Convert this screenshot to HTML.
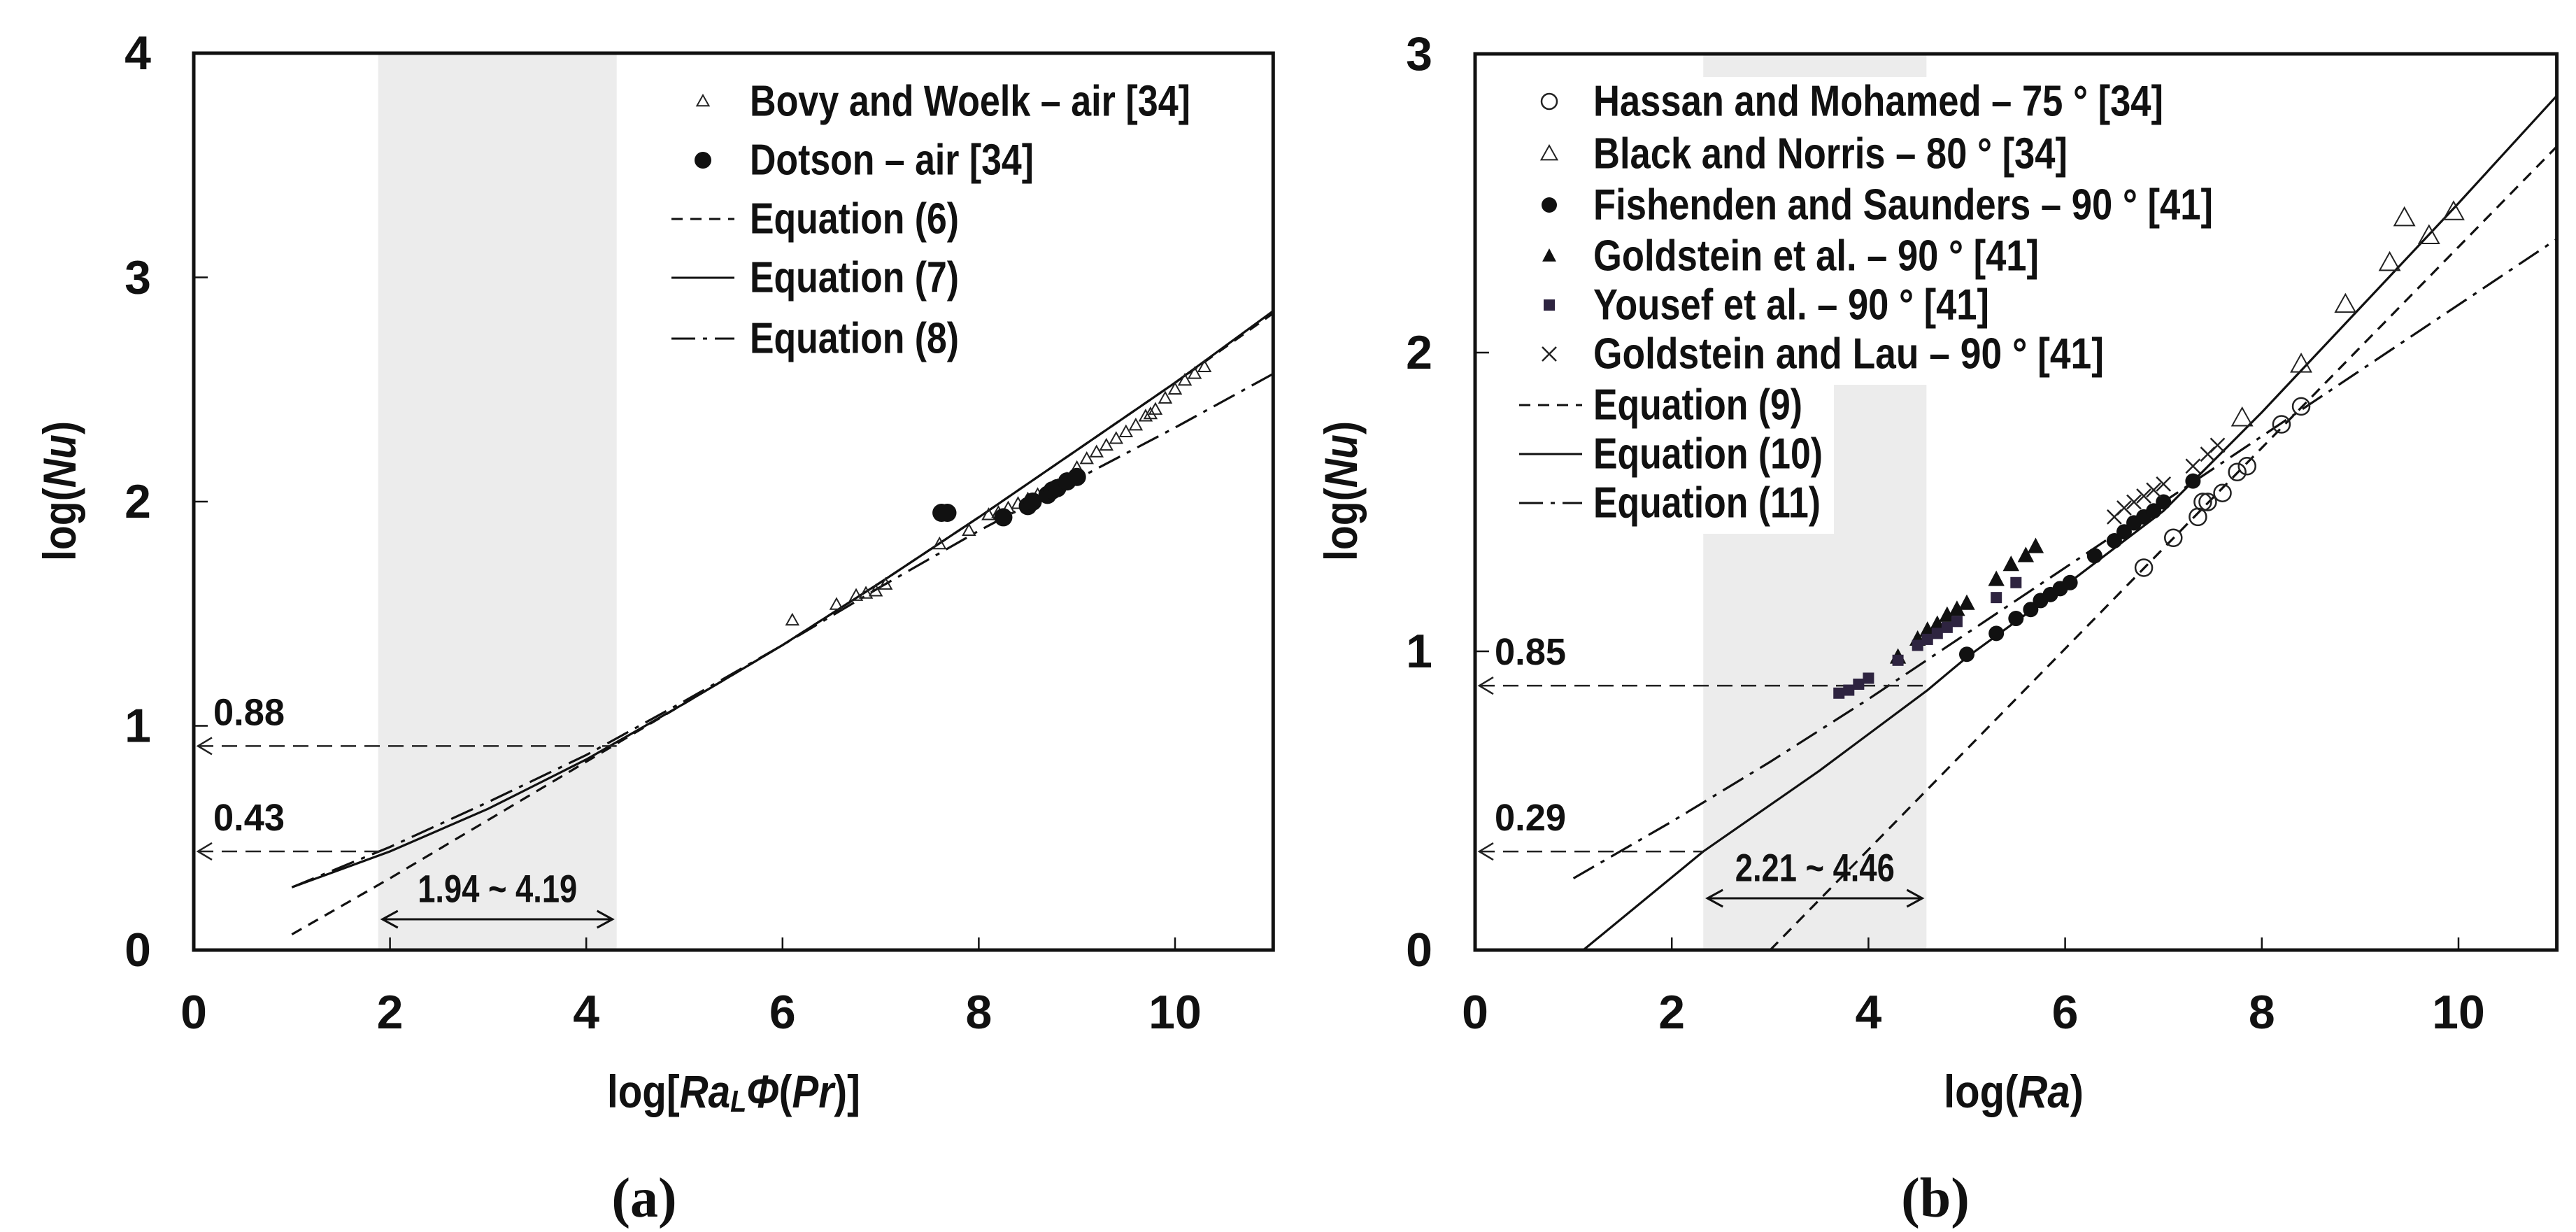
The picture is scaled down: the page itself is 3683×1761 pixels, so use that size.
<!DOCTYPE html>
<html><head><meta charset="utf-8"><style>
html,body{margin:0;padding:0;background:#fff;}
svg{display:block;font-family:"Liberation Sans",Arial,sans-serif;}
</style></head><body>
<svg id="fig" width="3683" height="1761" viewBox="0 0 3683 1761" xmlns="http://www.w3.org/2000/svg">
<rect width="3683" height="1761" fill="#fff"/>
<g id="pa"></g>
<g id="pb"></g>
</svg>
<script>
// ---------- Panel (a) data ----------
const aXTicks = [0, 2, 4, 6, 8, 10];
const aYTicks = [0, 1, 2, 3, 4];
const aShade = [1.88, 4.31];
const aEq6X = [1, 2, 3, 4, 5, 6, 7, 8, 9, 10, 11];
const aEq6Y = [0.07, 0.32, 0.58, 0.84, 1.1, 1.36, 1.64, 1.93, 2.23, 2.53, 2.84];
const aEq7X = [1, 2, 3, 4, 5, 6, 7, 8, 9, 10, 11];
const aEq7Y = [0.28, 0.44, 0.63, 0.85, 1.1, 1.36, 1.64, 1.93, 2.23, 2.53, 2.85];
const aEq8X = [1, 2, 3, 4, 5, 6, 7, 8, 9, 10, 11];
const aEq8Y = [0.28, 0.46, 0.66, 0.87, 1.11, 1.36, 1.62, 1.87, 2.1, 2.33, 2.57];
const aBovyX = [6.1, 6.55, 6.75, 6.85, 6.95, 7.05, 7.6, 7.9, 8.1, 8.2, 8.3, 8.4, 8.5, 8.6, 8.7, 8.8, 8.9, 9.0, 9.1, 9.2, 9.3, 9.4, 9.5, 9.6, 9.7, 9.75, 9.8, 9.9, 10.0, 10.1, 10.2, 10.3];
const aBovyY = [1.47, 1.54, 1.58, 1.59, 1.6, 1.63, 1.81, 1.87, 1.94, 1.95, 1.97, 1.99, 2.01, 2.03, 2.05, 2.07, 2.1, 2.15, 2.19, 2.22, 2.25, 2.28, 2.31, 2.34, 2.38, 2.39, 2.41, 2.46, 2.5, 2.54, 2.57, 2.6];
const aDotsonX = [7.62, 7.68, 8.25, 8.5, 8.55, 8.7, 8.75, 8.8, 8.9, 9.0];
const aDotsonY = [1.95, 1.95, 1.93, 1.98, 2.0, 2.03, 2.05, 2.06, 2.09, 2.11];
const aGuideY = [0.91, 0.44];
const aGuideLabels = ["0.88", "0.43"];
const aGuideEnd = [4.31, 1.9];

// ---------- Panel (b) data ----------
const bXTicks = [0, 2, 4, 6, 8, 10];
const bYTicks = [0, 1, 2, 3];
const bShade = [2.32, 4.59];
const bEq9X = [3, 11];
const bEq9Y = [0, 2.69];
const bEq10X = [1.1, 2.32, 3.5, 4.6, 5, 6, 7, 8, 9, 10, 11];
const bEq10Y = [0, 0.33, 0.6, 0.87, 0.98, 1.22, 1.47, 1.8, 2.15, 2.5, 2.86];
const bEq11X = [1, 2, 3, 4, 5, 6, 7, 8, 9, 10, 11];
const bEq11Y = [0.24, 0.43, 0.63, 0.84, 1.06, 1.28, 1.5, 1.72, 1.94, 2.16, 2.38];
const bHassanX = [6.8, 7.1, 7.35, 7.4, 7.45, 7.6, 7.75, 7.85, 8.2, 8.4];
const bHassanY = [1.28, 1.38, 1.45, 1.5, 1.5, 1.53, 1.6, 1.62, 1.76, 1.82];
const bBlackX = [7.8, 8.4, 8.85, 9.3, 9.45, 9.7, 9.95];
const bBlackY = [1.78, 1.96, 2.16, 2.3, 2.45, 2.39, 2.47];
const bFishX = [5, 5.3, 5.5, 5.65, 5.75, 5.85, 5.95, 6.05, 6.3, 6.5, 6.6, 6.7, 6.8, 6.9, 7.0, 7.3];
const bFishY = [0.99, 1.06, 1.11, 1.14, 1.17, 1.19, 1.21, 1.23, 1.32, 1.37, 1.4, 1.43, 1.45, 1.47, 1.5, 1.57];
const bGoldX = [4.3, 4.5, 4.6, 4.7, 4.8, 4.9, 5.0, 5.3, 5.45, 5.6, 5.7];
const bGoldY = [0.98, 1.04, 1.07, 1.09, 1.12, 1.14, 1.16, 1.24, 1.29, 1.32, 1.35];
const bYousefX = [3.7, 3.8, 3.9, 4.0, 4.3, 4.5, 4.6, 4.7, 4.8, 4.9, 5.3, 5.5];
const bYousefY = [0.86, 0.87, 0.89, 0.91, 0.97, 1.02, 1.04, 1.06, 1.08, 1.1, 1.18, 1.23];
const bLauX = [6.5, 6.6, 6.7, 6.8, 6.9, 7.0, 7.3, 7.45, 7.55];
const bLauY = [1.45, 1.48, 1.5, 1.52, 1.54, 1.56, 1.62, 1.66, 1.69];
const bGuideY = [0.885, 0.33];
const bGuideLabels = ["0.85", "0.29"];
const bGuideEnd = [4.59, 2.32];

const NS = "http://www.w3.org/2000/svg";
function mk(parent, tag, attrs) {
  const e = document.createElementNS(NS, tag);
  for (const k in attrs) e.setAttribute(k, attrs[k]);
  parent.appendChild(e);
  return e;
}
function txt(parent, x, y, s, size, opts) {
  opts = opts || {};
  const t = mk(parent, "text", {x: x, y: y, "font-size": size, "font-weight": opts.weight || "bold", "text-anchor": opts.anchor || "start", "dominant-baseline": "central", fill: "#111"});
  if (opts.len) { t.setAttribute("textLength", opts.len); t.setAttribute("lengthAdjust", "spacingAndGlyphs"); }
  if (opts.family) t.setAttribute("font-family", opts.family);
  t.textContent = s;
  return t;
}
function marker(g, kind, x, y, s) {
  let e;
  if (kind === "otri") e = mk(g, "polygon", {points: `${x},${y-s} ${x-s*0.95},${y+s*0.7} ${x+s*0.95},${y+s*0.7}`, fill: "none", stroke: "#222", "stroke-width": 2});
  else if (kind === "ftri") e = mk(g, "polygon", {points: `${x},${y-s} ${x-s*0.9},${y+s*0.7} ${x+s*0.9},${y+s*0.7}`, fill: "#111"});
  else if (kind === "fcirc") e = mk(g, "circle", {cx: x, cy: y, r: s, fill: "#111"});
  else if (kind === "ocirc") e = mk(g, "circle", {cx: x, cy: y, r: s, fill: "none", stroke: "#222", "stroke-width": 2.5});
  else if (kind === "sq") e = mk(g, "rect", {x: x-s, y: y-s, width: 2*s, height: 2*s, fill: "#2e2440"});
  else if (kind === "cross") e = mk(g, "path", {d: `M${x-s},${y-s}L${x+s},${y+s}M${x+s},${y-s}L${x-s},${y+s}`, stroke: "#222", "stroke-width": 2.5, fill: "none"});
  return e;
}
const DASH = "16 11", DASHDOT = "34 11 6 11";

function panel(g, cfg) {
  const X = v => cfg.x0 + v * cfg.ux, Y = v => cfg.y0 - v * cfg.uy;
  const L = X(0), R = X(11), T = Y(cfg.ymax), B = Y(0);
  const clipId = cfg.id + "clip";
  const cp = mk(g, "clipPath", {id: clipId});
  mk(cp, "rect", {x: L, y: T, width: R - L, height: B - T});
  const sh = mk(g, "rect", {x: X(cfg.shade[0]), y: T, width: X(cfg.shade[1]) - X(cfg.shade[0]), height: B - T, fill: "#ececec"});
  
  
  cfg.legendBoxes.forEach(b => {
    const r = mk(g, "rect", {x: b[0], y: b[1], width: b[2], height: b[3], fill: "#fff"});
    
    
  });
  const cg = mk(g, "g", {"clip-path": `url(#${clipId})`});
  cfg.curves.forEach(c => {
    const d = c.xs.map((v, i) => (i ? "L" : "M") + X(v).toFixed(1) + "," + Y(c.ys[i]).toFixed(1)).join("");
    const p = mk(cg, "path", {d: d, fill: "none", stroke: "#111", "stroke-width": 3.2});
    if (c.dash) p.setAttribute("stroke-dasharray", c.dash);
    
    
  });
  cfg.guideY.forEach((gy, i) => {
    const y = Y(gy);
    const gl = mk(g, "g", {});
    
    
    mk(gl, "line", {x1: L + 6, y1: y, x2: X(cfg.guideEnd[i]), y2: y, stroke: "#222", "stroke-width": 2.5, "stroke-dasharray": "22 12"});
    mk(gl, "path", {d: `M${L+26},${y-12}L${L+6},${y}L${L+26},${y+12}`, fill: "none", stroke: "#222", "stroke-width": 2.5});
    txt(gl, L + 28, y - 48, cfg.guideLabels[i], 54, {len: 102});
  });
  const ay = cfg.arrowY;
  const ag = mk(g, "g", {});
  
  
  const ax1 = X(cfg.shade[0]) + 6, ax2 = X(cfg.shade[1]) - 6;
  mk(ag, "line", {x1: ax1, y1: ay, x2: ax2, y2: ay, stroke: "#111", "stroke-width": 3});
  mk(ag, "path", {d: `M${ax1+22},${ay-12}L${ax1},${ay}L${ax1+22},${ay+12}M${ax2-22},${ay-12}L${ax2},${ay}L${ax2-22},${ay+12}`, fill: "none", stroke: "#111", "stroke-width": 3});
  txt(ag, (ax1 + ax2) / 2, ay - 44, cfg.rangeLabel, 56, {anchor: "middle", len: 228});
  cfg.series.forEach(s => {
    const sg = mk(g, "g", {});
    
    
    s.xs.forEach((v, i) => {
      const m = marker(sg, s.kind, X(v), Y(s.ys[i]), s.size);
      
      
    });
  });
  const fr = mk(g, "rect", {x: L, y: T, width: R - L, height: B - T, fill: "none", stroke: "#111", "stroke-width": 5});
  
  
  const yt = mk(g, "g", {});
  
  
  cfg.yTicks.forEach(v => {
    mk(yt, "line", {x1: L, y1: Y(v), x2: L + 20, y2: Y(v), stroke: "#111", "stroke-width": 2.5});
    txt(yt, L - 80, Y(v), String(v), 68, {anchor: "middle"});
  });
  const xt = mk(g, "g", {});
  
  
  cfg.xTicks.forEach(v => {
    mk(xt, "line", {x1: X(v), y1: B, x2: X(v), y2: B - 18, stroke: "#111", "stroke-width": 2.5});
    txt(xt, X(v), 1447, String(v), 68, {anchor: "middle"});
  });
  const yl = mk(g, "text", {x: 0, y: 0, "font-size": 66, "font-weight": "bold", "text-anchor": "middle", "dominant-baseline": "central", fill: "#111", transform: `translate(${L - 192},702) rotate(-90)`, textLength: 200, lengthAdjust: "spacingAndGlyphs"});
  
  
  yl.innerHTML = 'log(<tspan font-style="italic">Nu</tspan>)';
  const xl = mk(g, "text", {x: cfg.xlabelX, y: 1560, "font-size": 66, "font-weight": "bold", "text-anchor": "middle", "dominant-baseline": "central", fill: "#111", textLength: cfg.xlabelLen, lengthAdjust: "spacingAndGlyphs"});
  
  
  xl.innerHTML = cfg.xlabel;
  const cap = txt(g, cfg.capX, 1713, cfg.cap, 80, {anchor: "middle", family: '"Liberation Serif", serif'});
  
  
  cfg.legend.forEach(e => {
    const lg = mk(g, "g", {});
    
    
    if (e.kind === "line") {
      const ln = mk(lg, "line", {x1: cfg.legLine[0], y1: e.y, x2: cfg.legLine[1], y2: e.y, stroke: "#111", "stroke-width": 3});
      if (e.dash) ln.setAttribute("stroke-dasharray", e.dash);
    } else marker(lg, e.kind, cfg.legMarkX, e.y, e.size);
    txt(lg, cfg.legTextX, e.y, e.label, 62, {len: e.len});
  });
}

panel(document.getElementById("pa"), {
  id: "a", x0: 277, ux: 140.3, y0: 1358, uy: 320.5, ymax: 4,
  xTicks: aXTicks, yTicks: aYTicks, shade: aShade,
  legendBoxes: [],
  curves: [
    {xs: aEq6X, ys: aEq6Y, dash: DASH, name: "equation-6-curve"},
    {xs: aEq7X, ys: aEq7Y, dash: null, name: "equation-7-curve"},
    {xs: aEq8X, ys: aEq8Y, dash: DASHDOT, name: "equation-8-curve"}
  ],
  guideY: aGuideY, guideLabels: aGuideLabels, guideEnd: aGuideEnd,
  arrowY: 1314, rangeLabel: "1.94 ~ 4.19",
  series: [
    {xs: aBovyX, ys: aBovyY, kind: "otri", size: 9, name: "bovy-woelk-points"},
    {xs: aDotsonX, ys: aDotsonY, kind: "fcirc", size: 13, name: "dotson-points"}
  ],
  xlabel: 'log[<tspan font-style="italic">Ra</tspan><tspan font-style="italic" font-size="44" dy="14">L</tspan><tspan font-style="italic" dy="-14">Φ</tspan>(<tspan font-style="italic">Pr</tspan>)]',
  xlabelX: 1049, xlabelLen: 362, cap: "(a)", capX: 921,
  legLine: [960, 1050], legMarkX: 1005, legTextX: 1072,
  legend: [
    {kind: "otri", size: 9, y: 145, label: "Bovy and Woelk – air [34]", len: 630},
    {kind: "fcirc", size: 12, y: 229, label: "Dotson – air [34]", len: 406},
    {kind: "line", dash: DASH, y: 313, label: "Equation (6)", len: 299},
    {kind: "line", dash: null, y: 397, label: "Equation (7)", len: 299},
    {kind: "line", dash: DASHDOT, y: 484, label: "Equation (8)", len: 299}
  ]
});

panel(document.getElementById("pb"), {
  id: "b", x0: 2109, ux: 140.6, y0: 1358, uy: 427, ymax: 3,
  xTicks: bXTicks, yTicks: bYTicks, shade: bShade,
  legendBoxes: [[2175, 110, 1000, 440], [2262, 548, 360, 215]],
  curves: [
    {xs: bEq9X, ys: bEq9Y, dash: DASH, name: "equation-9-curve"},
    {xs: bEq10X, ys: bEq10Y, dash: null, name: "equation-10-curve"},
    {xs: bEq11X, ys: bEq11Y, dash: DASHDOT, name: "equation-11-curve"}
  ],
  guideY: bGuideY, guideLabels: bGuideLabels, guideEnd: bGuideEnd,
  arrowY: 1284, rangeLabel: "2.21 ~ 4.46",
  series: [
    {xs: bHassanX, ys: bHassanY, kind: "ocirc", size: 12, name: "hassan-mohamed-points"},
    {xs: bBlackX, ys: bBlackY, kind: "otri", size: 15, name: "black-norris-points"},
    {xs: bFishX, ys: bFishY, kind: "fcirc", size: 11, name: "fishenden-saunders-points"},
    {xs: bGoldX, ys: bGoldY, kind: "ftri", size: 13, name: "goldstein-points"},
    {xs: bYousefX, ys: bYousefY, kind: "sq", size: 8, name: "yousef-points"},
    {xs: bLauX, ys: bLauY, kind: "cross", size: 10, name: "goldstein-lau-points"}
  ],
  xlabel: 'log(<tspan font-style="italic">Ra</tspan>)',
  xlabelX: 2879, xlabelLen: 200, cap: "(b)", capX: 2767,
  legLine: [2172, 2262], legMarkX: 2215, legTextX: 2278,
  legend: [
    {kind: "ocirc", size: 11, y: 145, label: "Hassan and Mohamed – 75 ° [34]", len: 815},
    {kind: "otri", size: 12, y: 220, label: "Black and Norris – 80 ° [34]", len: 678},
    {kind: "fcirc", size: 11, y: 293, label: "Fishenden and Saunders – 90 ° [41]", len: 886},
    {kind: "ftri", size: 11, y: 366, label: "Goldstein et al. – 90 ° [41]", len: 637},
    {kind: "sq", size: 8, y: 436, label: "Yousef et al. – 90 ° [41]", len: 566},
    {kind: "cross", size: 10, y: 506, label: "Goldstein and Lau – 90 ° [41]", len: 730},
    {kind: "line", dash: DASH, y: 579, label: "Equation (9)", len: 299},
    {kind: "line", dash: null, y: 649, label: "Equation (10)", len: 328},
    {kind: "line", dash: DASHDOT, y: 719, label: "Equation (11)", len: 325}
  ]
});
</script>
</body></html>
